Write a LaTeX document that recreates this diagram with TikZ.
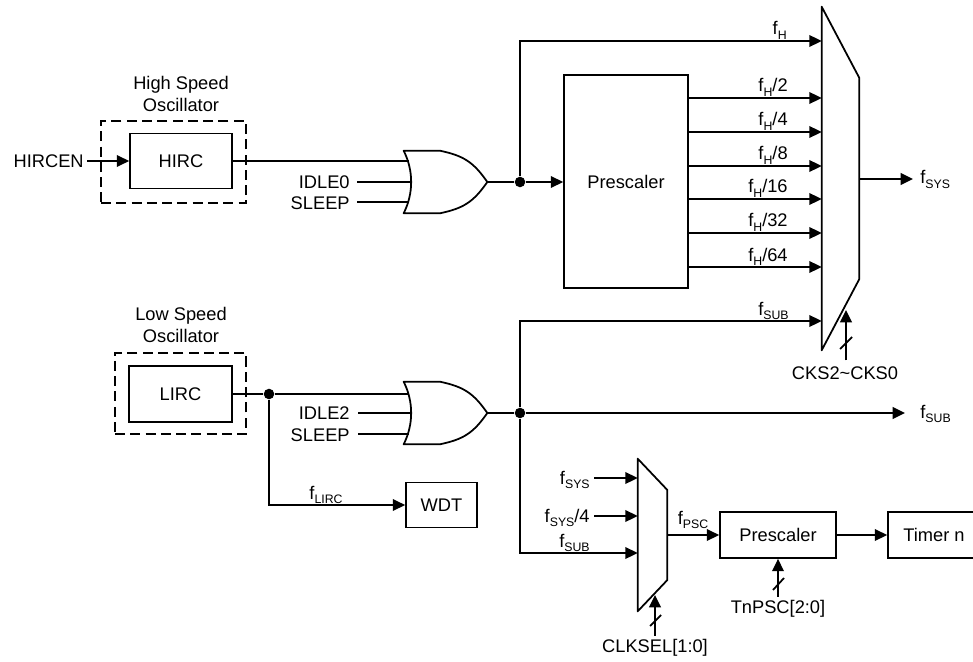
\documentclass[tikz,border=0pt]{standalone}
\usepackage{fontspec}
\setmainfont{Liberation Sans}
\usetikzlibrary{arrows.meta, positioning, calc}
\newcommand{\fq}[1]{f\raisebox{-0.45ex}{\fontsize{7}{8}\selectfont #1}}

\begin{document}
\begin{tikzpicture}[
  x=0.02cm, y=-0.02cm,
  every node/.style={font=\fontsize{10.4}{12.5}\selectfont, inner sep=0pt},
  box/.style={rectangle, draw, line width=1pt, align=center},
  osc/.style={rectangle, draw, line width=1pt, dash pattern=on 5.7pt off 3pt},
  wire/.style={line width=1pt},
  sig/.style={wire, -{Triangle[length=7pt,width=6.6pt]}},
  txt/.style={align=center},
  lbl/.style={anchor=base east},
  dot/.style={circle, fill, minimum size=6pt}
]
  \useasboundingbox (0,0) rectangle (973,662);

  % Oscillators
  \node[osc, minimum width=2.9cm, minimum height=1.64cm] (hsbox) at (173.5,162) {};
  \node[osc, minimum width=2.62cm, minimum height=1.63cm] (lsbox) at (180.5,393.5) {};
  \node[box, minimum width=2.04cm, minimum height=1.1cm] (hirc) at (181,161) {HIRC};
  \node[box, minimum width=2.06cm, minimum height=1.12cm] (lirc) at (180.5,394) {LIRC};
  \node[txt] (hstxt) at (181,94) {High Speed\\Oscillator};
  \node[txt] (lstxt) at (181,325) {Low Speed\\Oscillator};
  \node[anchor=east] (hircen) at (84,161) {HIRCEN};

  % Gates
  \node[minimum width=1.66cm, minimum height=1.24cm] (orh) at (445.5,182) {};
  \node[minimum width=1.66cm, minimum height=1.24cm] (orl) at (445.5,413) {};
  \foreach \g in {orh,orl}
    \draw[wire, line join=round] (\g.north west) -- ++(36,0)
      .. controls ++(24,5) and ++(-14,-20) .. (\g.east)
      .. controls ++(-14,20) and ++(24,-5) .. ($(\g.south west)+(36,0)$)
      -- (\g.south west) .. controls ++(10,-20) and ++(10,20) .. cycle;

  % Blocks
  \node[box, minimum width=2.48cm, minimum height=4.26cm] (preh) at (626,181.5) {Prescaler};
  \node[box, minimum width=2.32cm, minimum height=0.92cm] (prel) at (778,535) {Prescaler};
  \node[box, minimum width=1.84cm, minimum height=0.92cm] (timer) at (934,535) {Timer n};
  \node[box, minimum width=1.42cm, minimum height=0.9cm] (wdt) at (441.5,505) {WDT};

  % Multiplexers
  \node[minimum width=0.74cm, minimum height=6.86cm] (muxh) at (840.5,178.5) {};
  \node[minimum width=0.58cm, minimum height=3.04cm] (muxl) at (652.5,535) {};
  \draw[wire, line join=round] (muxh.north west) -- (muxh.east |- 0,78)
    -- (muxh.east |- 0,279) -- (muxh.south west) -- cycle;
  \draw[wire, line join=round] (muxl.north west) -- (muxl.east |- 0,490)
    -- (muxl.east |- 0,580) -- (muxl.south west) -- cycle;

  % Labels at the free ends
  \node[anchor=east] (idlea) at (350,182) {IDLE0};
  \node[anchor=east] (sleepa) at (350,203) {SLEEP};
  \node[anchor=east] (idleb) at (350,413) {IDLE2};
  \node[anchor=east] (sleepb) at (350,435) {SLEEP};
  \node[anchor=base west] (fsysout) at (920,184) {\fq{SYS}};
  \node[anchor=base west] (fsubout) at (920,418) {\fq{SUB}};
  \node[anchor=base east] (fsysa) at (590,484) {\fq{SYS}};
  \node[anchor=base east] (fsysb) at (590,522) {\fq{SYS}/4};
  \node[outer ysep=3.5pt] (cks) at (845,373) {CKS2\textasciitilde CKS0};
  \node[outer ysep=2pt] (clksel) at (655,648) {CLKSEL[1:0]};
  \node[outer ysep=2pt] (tnpsc) at (778,609) {TnPSC[2:0]};

  % Junctions
  \node[dot] (jha) at (520,182) {};
  \node[dot] (jlo) at (520,413) {};
  \node[dot] (jli) at (269,394) {};
  \coordinate (sysend) at (913,179);
  \coordinate (subend) at (905,413);

  % High speed path
  \draw[sig] (87,161) -- (hirc.west);
  \draw[wire] (hirc.east) -- (409,161);
  \draw[wire] (357,182) -- (411,182);
  \draw[wire] (357,202) -- (409,202);
  \draw[wire] (orh.east) -- (jha);
  \draw[sig] (jha) -- (preh.west |- jha);
  \draw[sig] (jha) |- (muxh.west |- 0,41);
  \node[lbl] (fhl) at (787,35) {\fq{H}};
  \foreach \y/\t [count=\i] in {98/2,132/4,166/8,199/16,233/32,267/64} {
    \draw[sig] (preh.east |- 0,\y) -- (muxh.west |- 0,\y);
    \node[lbl] (fh\i) at (788,\y-6) {\fq{H}/\t};
  }
  \draw[sig] (muxh.east |- sysend) -- (sysend);

  % Low speed path
  \draw[wire] (lirc.east) -- (jli) -- (409,394);
  \draw[wire] (358,413) -- (411,413);
  \draw[wire] (358,434) -- (409,434);
  \draw[sig] (jli) |- (wdt.west);
  \node[anchor=base] (flirc) at (326,499) {\fq{LIRC}};
  \draw[wire] (orl.east) -- (jlo);
  \draw[sig] (jlo) -- (subend);
  \draw[sig] (jlo) |- (muxh.west |- 0,321);
  \node[lbl] (fsubh) at (789,315) {\fq{SUB}};
  \draw[sig] (jlo) |- (muxl.west |- 0,553);
  \node[anchor=base east] (fsubc) at (590,547) {\fq{SUB}};
  \draw[sig] (594,478) -- (muxl.west |- 0,478);
  \draw[sig] (594,516) -- (muxl.west |- 0,516);
  \draw[sig] (muxl.east |- prel) -- (prel.west);
  \node[anchor=base] (fpsc) at (693,524) {\fq{PSC}};
  \draw[sig] (prel.east) -- (timer.west);

  % Select lines
  \draw[sig] (cks.north -| 846,0) -- (846,310);
  \draw[sig] (clksel.north) -- (655,595);
  \draw[sig] (tnpsc.north) -- (prel.south);
  \draw[wire] (840,349) -- (852,337);
  \draw[wire] (650,626) -- (661,615);
  \draw[wire] (773,590) -- (784,578);
\end{tikzpicture}
\end{document}
